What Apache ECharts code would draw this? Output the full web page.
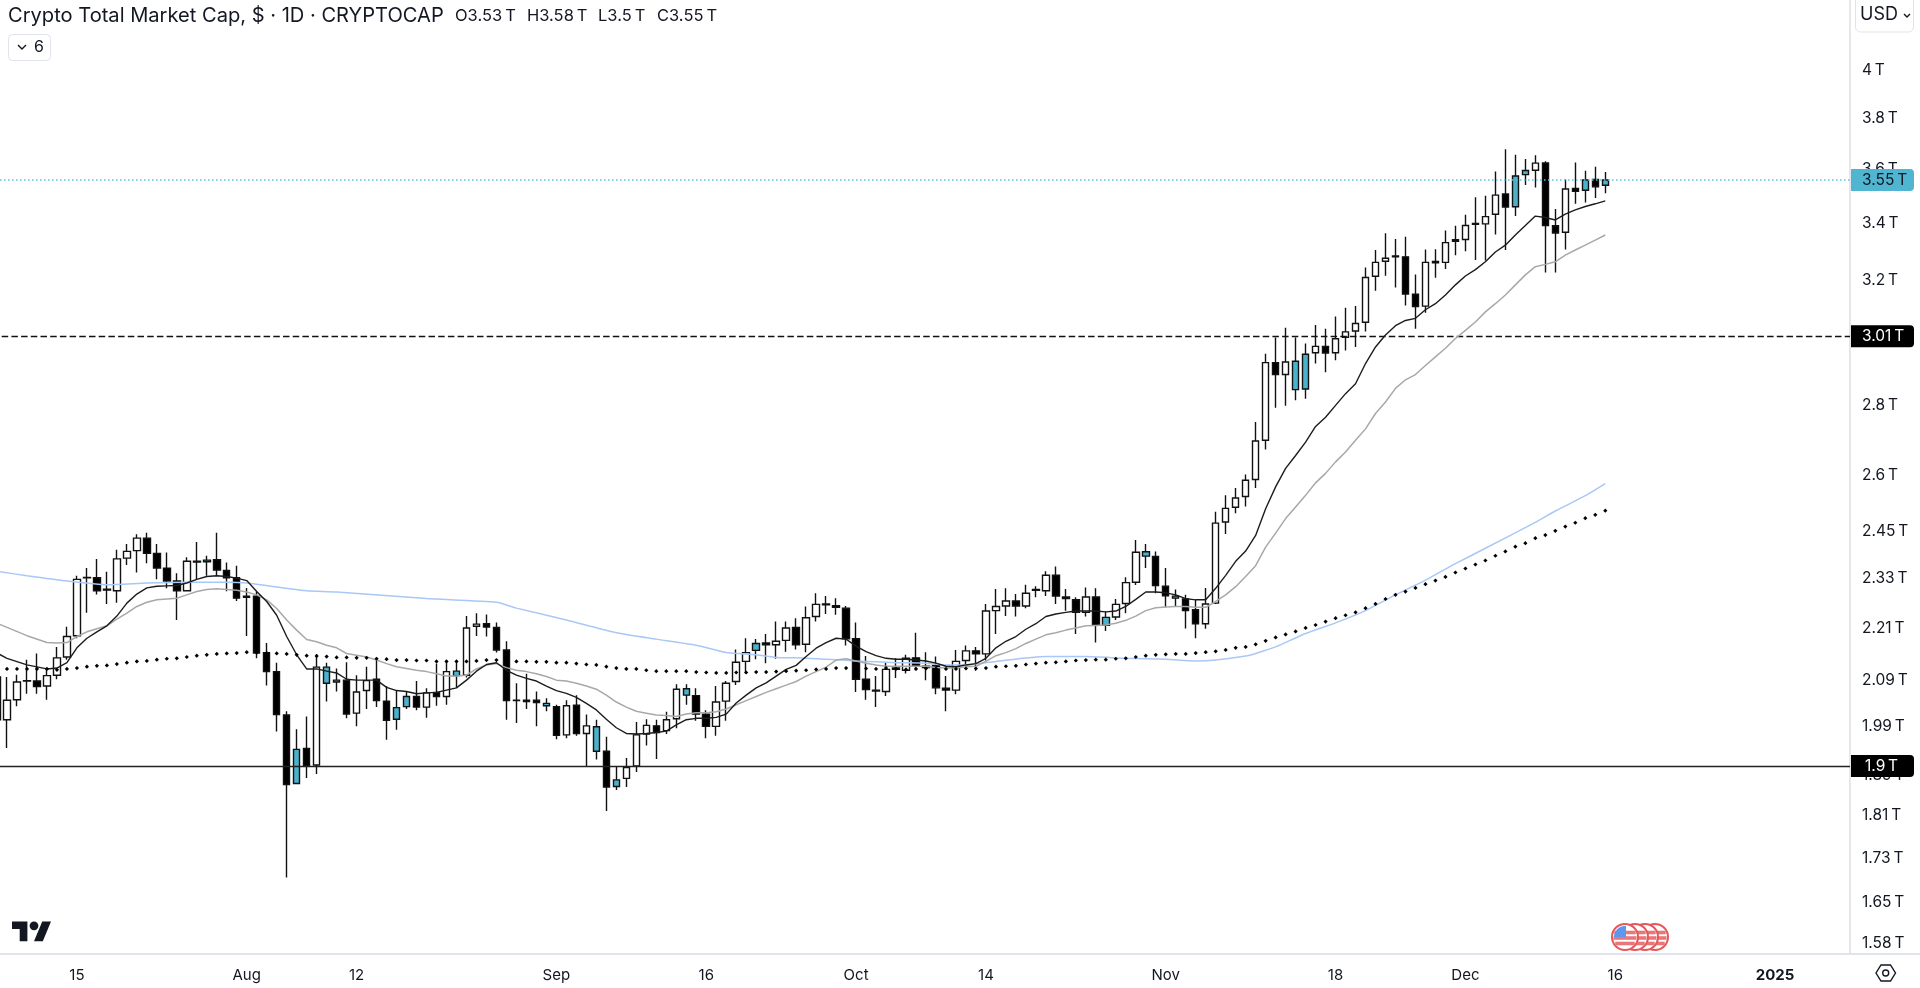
<!DOCTYPE html>
<html><head><meta charset="utf-8">
<style>html,body{margin:0;padding:0;background:#fff;overflow:hidden}#c{width:1920px;height:988px}</style>
<script src="https://cdn.jsdelivr.net/npm/echarts@6/dist/echarts.min.js"></script>
</head><body><div id="c"></div>
<script>
const tones=("WWWBBWWWWB"+"BBWWWBBBBW"+"BTBBBBBBBB"+"TBWTTBWWBB"+"TTBWBWTWWB"+"BBBBBTBWBW"+"TBTWWWBWWT"+"BBWWWWTBWW"+"BWWBBBBBBW"+"BWBBBBWWBW"+"WWBWBWBBBW"+"BTWWWTBBTB"+"BWWWWWWWBW"+"TTWBWWWWWW"+"BBBWBWBWBW"+"WBTTWBBWBT"+"BT").split("");
const highs=[2.100,2.092,2.097,2.131,2.145,2.112,2.160,2.207,2.330,2.349,
2.372,2.340,2.395,2.410,2.435,2.439,2.410,2.388,2.336,2.376,
2.415,2.380,2.439,2.363,2.355,2.300,2.291,2.169,2.124,2.017,
1.979,2.006,2.144,2.124,2.111,2.125,2.096,2.115,2.136,2.072,
2.062,2.060,2.083,2.067,2.122,2.130,2.130,2.232,2.239,2.236,
2.217,2.173,2.078,2.099,2.060,2.045,2.031,2.041,2.052,2.010,
1.999,1.963,1.901,1.919,1.994,2.000,1.999,2.016,2.076,2.076,
2.067,2.019,2.072,2.083,2.154,2.180,2.178,2.190,2.219,2.219,
2.227,2.255,2.287,2.280,2.275,2.256,2.217,2.139,2.094,2.124,
2.134,2.142,2.193,2.148,2.138,2.094,2.153,2.163,2.160,2.261,
2.297,2.299,2.285,2.308,2.304,2.341,2.353,2.297,2.277,2.301,
2.299,2.243,2.273,2.326,2.420,2.410,2.391,2.349,2.296,2.283,
2.271,2.300,2.494,2.538,2.558,2.595,2.744,2.951,3.002,3.033,
3.002,2.983,3.042,3.030,3.070,3.099,3.104,3.234,3.295,3.354,
3.334,3.342,3.210,3.297,3.298,3.364,3.381,3.421,3.485,3.491,
3.582,3.668,3.646,3.630,3.644,3.621,3.442,3.552,3.616,3.585,
3.600,3.580];
const bodyTops=[2.092,2.041,2.081,2.084,2.083,2.095,2.135,2.184,2.321,2.326,
2.325,2.297,2.372,2.391,2.425,2.425,2.386,2.349,2.317,2.366,
2.366,2.369,2.370,2.343,2.325,2.280,2.280,2.147,2.104,2.009,
1.937,1.939,2.114,2.114,2.085,2.085,2.059,2.084,2.087,2.039,
2.025,2.049,2.049,2.057,2.058,2.104,2.105,2.204,2.213,2.214,
2.205,2.153,2.041,2.041,2.041,2.034,2.027,2.029,2.030,1.986,
1.984,1.933,1.875,1.900,1.967,1.987,1.986,1.999,2.065,2.066,
2.051,2.011,2.037,2.078,2.125,2.147,2.168,2.169,2.173,2.204,
2.205,2.228,2.260,2.261,2.257,2.251,2.179,2.087,2.063,2.109,
2.112,2.134,2.135,2.116,2.118,2.067,2.127,2.151,2.151,2.244,
2.255,2.268,2.268,2.287,2.296,2.331,2.331,2.278,2.271,2.278,
2.278,2.229,2.260,2.313,2.389,2.390,2.378,2.304,2.280,2.273,
2.247,2.261,2.464,2.503,2.531,2.579,2.689,2.923,2.923,2.925,
2.927,2.949,2.974,2.974,2.998,3.020,3.047,3.200,3.252,3.266,
3.274,3.271,3.144,3.252,3.255,3.321,3.331,3.382,3.389,3.414,
3.493,3.497,3.565,3.586,3.614,3.615,3.381,3.516,3.518,3.550,
3.552,3.550];
const bodyBottoms=[1.999,1.999,2.042,2.083,2.071,2.072,2.096,2.137,2.186,2.325,
2.293,2.295,2.293,2.374,2.393,2.386,2.349,2.317,2.293,2.293,
2.364,2.365,2.344,2.325,2.275,2.277,2.146,2.104,2.010,1.866,
1.868,1.903,1.905,2.078,2.081,2.011,2.013,2.062,2.040,1.998,
2.000,2.027,2.026,2.026,2.049,2.049,2.095,2.096,2.208,2.206,
2.153,2.040,2.040,2.038,2.036,2.029,1.966,1.967,1.970,1.970,
1.933,1.861,1.862,1.878,1.903,1.969,1.972,1.976,2.001,2.052,
2.011,1.985,1.985,2.039,2.082,2.127,2.152,2.165,2.165,2.175,
2.165,2.166,2.231,2.259,2.253,2.179,2.087,2.064,2.061,2.060,
2.109,2.107,2.116,2.113,2.068,2.063,2.063,2.129,2.144,2.144,
2.245,2.256,2.256,2.256,2.294,2.293,2.280,2.274,2.241,2.241,
2.210,2.210,2.230,2.262,2.314,2.379,2.306,2.281,2.275,2.245,
2.214,2.214,2.263,2.467,2.506,2.535,2.581,2.691,2.886,2.886,
2.840,2.842,2.954,2.953,2.954,3.003,3.023,3.051,3.204,3.256,
3.271,3.144,3.103,3.104,3.250,3.252,3.326,3.332,3.386,3.388,
3.423,3.449,3.450,3.570,3.587,3.382,3.355,3.358,3.507,3.511,
3.524,3.530];
const lows=[1.992,1.940,2.028,2.055,2.055,2.042,2.087,2.131,2.180,2.240,
2.284,2.261,2.264,2.357,2.338,2.361,2.321,2.299,2.223,2.291,
2.321,2.330,2.330,2.292,2.268,2.185,2.134,2.073,1.974,1.690,
1.868,1.879,1.887,2.038,2.060,2.002,1.985,2.022,2.026,1.957,
1.978,2.022,2.019,2.003,2.029,2.031,2.069,2.091,2.185,2.184,
2.147,1.999,1.992,2.022,1.985,2.017,1.958,1.960,1.965,1.903,
1.916,1.814,1.855,1.861,1.891,1.945,1.917,1.969,1.981,2.031,
1.997,1.960,1.965,1.997,2.074,2.100,2.132,2.123,2.133,2.149,
2.154,2.148,2.219,2.237,2.235,2.163,2.059,2.042,2.026,2.050,
2.090,2.100,2.107,2.085,2.054,2.017,2.054,2.121,2.106,2.129,
2.190,2.232,2.231,2.251,2.277,2.280,2.261,2.245,2.190,2.231,
2.170,2.197,2.223,2.239,2.307,2.349,2.287,2.253,2.256,2.203,
2.180,2.202,2.261,2.436,2.490,2.508,2.558,2.665,2.786,2.792,
2.808,2.813,2.920,2.893,2.930,2.961,2.972,3.021,3.155,3.206,
3.166,3.106,3.030,3.082,3.199,3.229,3.277,3.291,3.260,3.258,
3.350,3.295,3.416,3.531,3.522,3.217,3.217,3.297,3.461,3.466,
3.482,3.500];
const emaFast=[2.146,2.134,null,2.119,null,2.110,2.112,2.124,2.158,2.180,
2.195,2.209,2.232,2.263,2.285,2.300,2.304,2.305,2.306,2.312,
2.321,2.328,2.330,2.328,2.324,2.318,2.291,2.267,2.234,2.184,
2.142,2.110,2.110,2.105,2.101,2.087,2.085,2.085,2.085,2.069,
2.062,2.060,2.055,2.057,2.058,2.063,2.068,2.085,2.105,2.120,
2.124,2.107,2.096,2.089,2.083,2.072,2.062,2.056,2.047,2.034,
2.020,2.000,1.982,1.970,1.969,1.970,1.972,1.975,1.988,1.999,
2.002,2.002,2.004,2.011,2.035,2.052,2.068,2.079,2.094,2.109,
2.118,2.138,2.157,2.170,2.180,2.178,2.162,2.149,2.140,2.134,
2.132,2.132,2.130,2.128,2.123,2.116,2.115,2.119,2.122,2.134,
2.158,2.173,2.184,2.201,2.214,2.231,2.237,2.241,2.244,2.244,
2.244,2.242,2.244,2.255,2.272,2.290,2.290,2.288,2.283,2.274,
2.271,2.271,2.299,2.331,2.366,2.392,2.432,2.502,2.561,2.612,
2.648,2.686,2.731,2.758,2.793,2.828,2.858,2.920,2.972,3.010,
3.040,3.057,3.064,3.092,3.112,3.141,3.175,3.205,3.227,3.254,
3.288,3.312,3.348,3.382,3.416,3.411,3.402,3.423,3.439,3.451,
3.461,3.472];
const emaSlow=[2.215,null,null,2.186,null,2.170,2.169,2.170,2.184,2.195,
2.202,2.209,2.225,2.239,2.255,2.265,2.271,null,2.275,2.283,
2.291,2.296,2.298,null,2.294,2.290,2.283,2.271,2.250,2.223,
2.199,2.177,2.172,2.164,2.158,2.145,2.141,2.137,2.130,2.122,
2.115,2.111,2.107,2.104,2.099,2.094,2.094,2.096,2.110,2.119,
2.122,2.113,2.107,2.104,2.099,2.093,2.085,2.083,2.078,2.072,
2.065,2.052,2.037,2.026,2.017,2.013,2.009,2.008,2.006,2.011,
2.014,2.014,2.016,2.022,2.031,2.040,2.049,2.058,2.066,2.074,
2.082,2.094,2.104,2.114,2.130,2.133,2.128,2.123,2.119,2.116,
2.116,2.116,2.116,2.116,2.113,2.112,2.112,2.115,2.116,2.127,
2.140,2.147,2.156,2.168,2.178,2.188,2.193,2.199,2.204,2.209,
2.210,2.211,2.215,2.222,2.232,2.245,2.252,2.254,2.255,2.255,
2.253,2.253,2.267,2.283,2.303,2.328,2.355,2.402,2.438,2.476,
2.507,2.538,2.572,2.598,2.630,2.658,2.691,2.724,2.769,2.803,
2.844,2.870,2.886,2.914,2.941,2.968,2.999,3.025,3.052,3.085,
3.112,3.141,3.175,3.209,3.237,3.245,3.254,3.277,3.295,3.312,
3.330,3.348];
const smaDotted=[null,2.110,2.110,2.110,2.110,2.110,2.108,2.110,2.112,2.115,
2.117,2.118,2.121,2.124,2.127,2.128,2.131,2.133,2.134,2.137,
2.140,2.142,2.144,2.145,2.146,2.148,2.147,2.146,2.145,2.144,
2.142,2.140,2.139,2.138,2.136,2.136,2.135,2.135,2.133,2.132,
2.130,2.130,2.129,2.129,2.127,2.127,2.127,2.127,2.128,2.130,
2.130,2.130,2.127,2.127,2.126,2.126,2.124,2.124,2.122,2.120,
2.119,2.115,2.112,2.110,2.110,2.107,2.105,2.105,2.105,2.105,
2.103,2.102,2.101,2.101,2.102,2.102,2.103,2.103,2.104,2.105,
2.106,2.107,2.109,2.110,2.112,2.112,2.113,2.111,2.110,2.112,
2.110,2.109,2.110,2.111,2.111,2.110,2.110,2.111,2.111,2.112,
2.115,2.116,2.117,2.120,2.122,2.124,2.125,2.127,2.129,2.130,
2.131,2.131,2.133,2.134,2.137,2.140,2.142,2.143,2.144,2.144,
2.146,2.148,2.150,2.153,2.158,2.160,2.166,2.174,2.182,2.189,
2.196,2.204,2.211,2.219,2.227,2.234,2.241,2.251,2.261,2.273,
2.283,2.291,2.300,2.309,2.318,2.327,2.338,2.348,2.358,2.368,
2.380,2.391,2.403,2.412,2.425,2.433,2.444,2.455,2.465,2.477,
2.486,2.497];
const blueIndex=[0,3,7,11,15,19,23,25,29,31,34,43,50,52,57,62,66,70,73,76,78,80,83,86,88,90,93,95,97,100,105,109,113,117,120,122,125,126,128,131,134,137,140,143,146,149,154,156,159,161];
const blueValues=[2.341,2.330,2.317,2.308,2.312,2.314,2.314,2.312,2.299,2.293,2.290,2.274,2.265,2.251,2.223,2.193,2.178,2.164,2.147,2.142,2.136,2.135,2.132,2.128,2.126,2.124,2.123,2.119,2.119,2.127,2.138,2.138,2.134,2.132,2.128,2.130,2.139,2.145,2.160,2.191,2.216,2.245,2.283,2.319,2.360,2.399,2.466,2.496,2.537,2.570];
const priceTicks=[4,3.8,3.6,3.4,3.2,2.8,2.6,2.45,2.33,2.21,2.09,1.99,1.89,1.81,1.73,1.65,1.58];
const timeTickDates=['2024-07-15','2024-08-01','2024-08-12','2024-09-01','2024-09-16','2024-10-01','2024-10-14','2024-11-01','2024-11-18','2024-12-01','2024-12-16','2025-01-01'];
const timeTickTexts=['15','Aug','12','Sep','16','Oct','14','Nov','18','Dec','16','2025'];
const levelLines=[{value:3.55,text:'3.55\u2009T'},{value:3.006,text:'3.01\u2009T'},{value:1.903,text:'1.9\u2009T'}];
const ohlcTexts=['O3.53\u2009T','H3.58\u2009T','L3.5\u2009T','C3.55\u2009T'];

const FONT='Inter';
const dates=[];
for(let i=0;i<186;i++){dates.push(new Date(Date.UTC(2024,6,7+i)).toISOString().slice(0,10));}
const palette={W:'#ffffff',B:'#000000',T:'#4bb2cc'};
const candles=tones.map((t,i)=>{
  const v=t==='B'?[bodyTops[i],bodyBottoms[i],lows[i],highs[i]]:[bodyBottoms[i],bodyTops[i],lows[i],highs[i]];
  return {value:v,itemStyle:{color:palette[t],color0:palette[t],borderColor:'#111111',borderColor0:'#111111'}};
});
const tickLabel=d=>{const k=timeTickDates.indexOf(d);return k<0?'':timeTickTexts[k];};
const tag=(bg,fg,pad)=>({show:true,position:'end',distance:1,formatter:'{b}',color:fg,backgroundColor:bg,fontFamily:FONT,fontSize:15.5,width:63-pad,height:22,lineHeight:22,align:'left',verticalAlign:'middle',padding:[0,0,0,pad],borderRadius:[0,4,4,0]});

const coins=[];
[1655,1645,1635,1625].forEach((cx,n)=>{
  const cy=937,r=13;
  coins.push({type:'circle',shape:{cx,cy,r},style:{fill:'#fff',stroke:'#e4575a',lineWidth:2},z:50+n*3});
  [-4.5,1,6.5].forEach(dy=>{
    const w=Math.sqrt(r*r-dy*dy)-1.5;
    coins.push({type:'rect',shape:{x:cx-w,y:cy+dy-1.8,width:2*w,height:3.6},style:{fill:'#e9777a'},z:50+n*3+1});
  });
  if(n===3){coins.push({type:'sector',shape:{cx,cy,r:11,r0:0,startAngle:Math.PI,endAngle:Math.PI*1.5},style:{fill:'#5f97ec'},z:63});
    coins.push({type:'rect',shape:{x:cx-2,y:cy-11,width:3,height:11},style:{fill:'#5f97ec'},z:63});}
});

const chart=echarts.init(document.getElementById('c'),null,{renderer:'canvas',width:1920,height:988});
chart.setOption({
  animation:false,
  backgroundColor:'#ffffff',
  title:{show:true,text:'Crypto Total Market Cap, $ · 1D · CRYPTOCAP',left:8,top:6,padding:0,textStyle:{fontFamily:FONT,fontWeight:400,fontSize:20.1,color:'#131722'}},
  grid:{left:-8,right:70,top:0,height:954,containLabel:false,outerBoundsMode:'none'},
  xAxis:{type:'category',data:dates,boundaryGap:true,
    axisLine:{show:true,lineStyle:{color:'#e0e3eb',width:2}},axisTick:{show:false},splitLine:{show:false},
    axisLabel:{show:true,margin:14,fontFamily:FONT,fontSize:15,color:'#131722',hideOverlap:false,
      interval:(i,d)=>timeTickDates.indexOf(d)>=0,
      formatter:d=>{const s=tickLabel(d);return s==='2025'?'{b|'+s+'}':s;},
      rich:{b:{fontFamily:FONT,fontSize:15,fontWeight:700,color:'#131722'}}}},
  yAxis:{type:'log',logBase:10,min:1.558,max:4.299,position:'right',scale:true,
    axisLine:{show:true,lineStyle:{color:'#e6e7ea',width:2}},axisTick:{show:false},splitLine:{show:false},minorTick:{show:false},minorSplitLine:{show:false},
    axisLabel:{show:true,margin:12,fontFamily:FONT,fontSize:15.5,color:'#131722',customValues:priceTicks,
      formatter:v=>'{p|'+(+(+v).toFixed(2))+'\u2009T}',showMinLabel:true,showMaxLabel:true,
      rich:{p:{fontFamily:FONT,fontSize:15.5,color:'#131722',padding:[5,0,0,0]}}}},
  series:[
    {type:'candlestick',name:'Crypto Total Market Cap',data:candles,barWidth:7,itemStyle:{borderWidth:1.4},z:3,clip:true,
      markLine:{silent:true,symbol:'none',animation:false,precision:3,
        data:[
          {yAxis:levelLines[0].value,name:levelLines[0].text,lineStyle:{color:'#5cc3dc',type:[1.5,2.5],width:1.5},label:tag('#4fb5d0','#131722',11)},
          {yAxis:levelLines[1].value,name:levelLines[1].text,lineStyle:{color:'#111111',type:[6.5,3.2],width:1.3},label:tag('#000000','#ffffff',11)},
          {yAxis:levelLines[2].value,name:levelLines[2].text,lineStyle:{color:'#222222',type:'solid',width:1.3},label:tag('#000000','#ffffff',14)}
        ]}},
    {type:'line',name:'blue',data:blueIndex.map((x,k)=>[x,blueValues[k]]),showSymbol:false,smooth:0.2,lineStyle:{color:'#a9c8f5',width:1.5},z:4},
    {type:'line',name:'gray',data:emaSlow,connectNulls:true,showSymbol:false,lineStyle:{color:'#a8a8a8',width:1.5},z:5},
    {type:'line',name:'black',data:emaFast,connectNulls:true,showSymbol:false,lineStyle:{color:'#1c1c1c',width:1.4},z:6},
    {type:'line',name:'dots',data:smaDotted,showSymbol:true,showAllSymbol:true,symbol:'diamond',symbolSize:4.2,itemStyle:{color:'#000'},lineStyle:{width:0,opacity:0},z:7}
  ],
  graphic:[
    {type:'text',x:455,y:8,style:{text:ohlcTexts[0],fontFamily:FONT,fontSize:16.5,fill:'#131722'},z:90},
    {type:'text',x:527,y:8,style:{text:ohlcTexts[1],fontFamily:FONT,fontSize:16.5,fill:'#131722'},z:90},
    {type:'text',x:598,y:8,style:{text:ohlcTexts[2],fontFamily:FONT,fontSize:16.5,fill:'#131722'},z:90},
    {type:'text',x:657,y:8,style:{text:ohlcTexts[3],fontFamily:FONT,fontSize:16.5,fill:'#131722'},z:90},
    {type:'rect',shape:{x:8.5,y:34.5,width:42,height:26,r:4},style:{fill:'#fff',stroke:'#e0e3eb',lineWidth:1},z:90},
    {type:'polyline',shape:{points:[[18,45],[22,49],[26,45]]},style:{stroke:'#131722',lineWidth:1.4,fill:null},z:91},
    {type:'text',x:34,y:39,style:{text:'6',fontFamily:FONT,fontSize:16,fill:'#131722'},z:91},
    {type:'rect',shape:{x:1855.5,y:-6,width:58,height:38,r:5},style:{fill:'#fff',stroke:'#e0e3eb',lineWidth:1},z:90},
    {type:'text',x:1860,y:6,style:{text:'USD',fontFamily:FONT,fontSize:18,fill:'#131722'},z:91},
    {type:'polyline',shape:{points:[[1904,14],[1907,17],[1910,14]]},style:{stroke:'#131722',lineWidth:1.4,fill:null},z:91},
    {type:'rect',shape:{x:1850,y:953,width:70,height:2},style:{fill:'#e0e3eb'},z:1},
    {type:'polygon',shape:{points:[[12,921.4],[27.4,921.4],[27.4,941.2],[19.7,941.2],[19.7,929.1],[12,929.1]]},style:{fill:'#131722'},z:90},
    {type:'polygon',shape:{points:[[42.25,921.4],[51,921.4],[42.8,941.2],[34,941.2]]},style:{fill:'#131722'},z:90},
    {type:'circle',shape:{cx:34,cy:925.8,r:4.4},style:{fill:'#131722'},z:90},
    {type:'polygon',shape:{points:[[1881,965],[1890.5,965],[1895.5,973],[1890.5,981],[1881,981],[1876,973]]},style:{fill:'#fff',stroke:'#131722',lineWidth:1.4},z:90},
    {type:'circle',shape:{cx:1885.7,cy:973,r:3},style:{fill:'#fff',stroke:'#131722',lineWidth:1.4},z:91},
    ...coins
  ]
});
</script></body></html>
